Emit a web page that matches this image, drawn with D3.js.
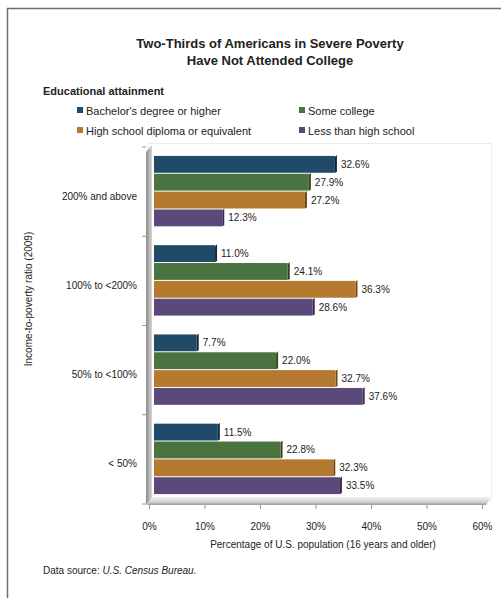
<!DOCTYPE html>
<meta charset="utf-8">
<script src="https://d3js.org/d3.v7.min.js"></script>
<style>
  body { margin: 0; background: #fff; }
  text { font-family: "Liberation Sans", Arial, sans-serif; fill: #222; }
</style>
<body>
  <svg id="vis"></svg>
</body>
<script>
  // data
  var categories = ["200% and above", "100% to <200%", "50% to <100%", "< 50%"];
  var series = ["Bachelor's degree or higher", "Some college", "High school diploma or equivalent", "Less than high school"];
  var bachelor = [32.6, 11.0, 7.7, 11.5];
  var someCollege = [27.9, 24.1, 22.0, 22.8];
  var highSchool = [27.2, 36.3, 32.7, 32.3];
  var lessThanHS = [12.3, 28.6, 37.6, 33.5];
  var xTicks = [0, 10, 20, 30, 40, 50, 60];

  var colors = ["#1f4b68", "#4b733f", "#b5792f", "#5b497b"];
  var sideColors = ["#10293a", "#2b4523", "#6f4716", "#372b4c"];

  var width = 501, height = 598;
  var svg = d3.select("#vis").attr("width", width).attr("height", height);

  var valuesBySeries = [bachelor, someCollege, highSchool, lessThanHS];
  var rows = [];
  categories.forEach(function(c, i) {
    series.forEach(function(s, j) {
      rows.push({cat: c, series: s, si: j, value: valuesBySeries[j][i]});
    });
  });

  // outer frame (cut off on the right and bottom)
  svg.append("rect")
    .attr("x", 7.5).attr("y", 8.5)
    .attr("width", 700).attr("height", 700)
    .attr("fill", "none").attr("stroke", "#6e6e6e").attr("stroke-width", 1.5);

  // titles
  svg.append("text").attr("x", 270).attr("y", 48).attr("text-anchor", "middle")
    .attr("font-size", 13).attr("font-weight", "bold")
    .text("Two-Thirds of Americans in Severe Poverty");
  svg.append("text").attr("x", 270).attr("y", 65).attr("text-anchor", "middle")
    .attr("font-size", 13).attr("font-weight", "bold")
    .text("Have Not Attended College");

  // legend
  svg.append("text").attr("x", 43).attr("y", 95)
    .attr("font-size", 11).attr("font-weight", "bold")
    .text("Educational attainment");

  var legendPos = [[77, 111], [299, 111], [77, 131], [299, 131]];
  var order = [0, 1, 2, 3];
  var legend = svg.selectAll(".legend")
    .data(order)
    .enter().append("g")
    .attr("class", "legend")
    .attr("transform", function(d) { return "translate(" + legendPos[d][0] + "," + legendPos[d][1] + ")"; });
  legend.append("rect")
    .attr("x", 0).attr("y", -4).attr("width", 6).attr("height", 6)
    .attr("fill", function(d) { return colors[d]; });
  legend.append("text")
    .attr("x", 9).attr("y", 3.5)
    .attr("font-size", 11)
    .attr("fill", "#333")
    .text(function(d) { return series[d]; });

  // scales
  var x = d3.scaleLinear().domain([0, 60]).range([150, 483]);
  var y0 = d3.scaleBand().domain(categories).range([147, 504])
    .paddingInner(0.2).paddingOuter(0.1);
  var y1 = d3.scaleBand().domain(series).range([0, y0.bandwidth()]);
  var depth = 4;

  // plot area
  svg.append("rect")
    .attr("x", 148.5).attr("y", 143.5)
    .attr("width", 343).attr("height", 357)
    .attr("fill", "#fff").attr("stroke", "#ececec");

  var defs = svg.append("defs");
  var wallGrad = defs.append("linearGradient").attr("id", "wall")
    .attr("x1", "0").attr("x2", "1").attr("y1", "0").attr("y2", "0");
  wallGrad.append("stop").attr("offset", "0").attr("stop-color", "#8a8a8a");
  wallGrad.append("stop").attr("offset", "1").attr("stop-color", "#d6d6d6");
  var floorGrad = defs.append("linearGradient").attr("id", "floor")
    .attr("x1", "0").attr("x2", "0").attr("y1", "0").attr("y2", "1");
  floorGrad.append("stop").attr("offset", "0").attr("stop-color", "#f0f0f0");
  floorGrad.append("stop").attr("offset", "0.6").attr("stop-color", "#d4d4d4");
  floorGrad.append("stop").attr("offset", "1").attr("stop-color", "#9a9a9a");

  // left wall
  var wx = x(0);
  svg.append("path")
    .attr("d", "M" + (wx - 4) + ",152 L" + (wx + 2) + ",145 L" + (wx + 2) + ",498 L" + (wx - 4) + ",505 Z")
    .attr("fill", "url(#wall)");

  // floor
  svg.append("path")
    .attr("d", "M" + (x(0) + 2) + ",497 L" + (x(60) + 8) + ",497 L" + (x(60) + 3) + ",505 L" + (x(0) - 3) + ",505 Z")
    .attr("fill", "url(#floor)");

  // wall ticks
  svg.selectAll(".wtick")
    .data(categories.concat(["end"]))
    .enter().append("line")
    .attr("x1", wx - 8).attr("x2", wx - 4)
    .attr("y1", function(d) { return d === "end" ? 504 : y0(d) - y0.step() * y0.paddingInner() / 2; })
    .attr("y2", function(d) { return d === "end" ? 504 : y0(d) - y0.step() * y0.paddingInner() / 2; })
    .attr("stroke", "#9a9a9a");

  // x axis along the floor front edge
  var xAxis = d3.axisBottom(x)
    .tickValues(xTicks)
    .tickSize(4)
    .tickPadding(14)
    .tickFormat(function(d) { return d + "%"; });
  var gx = svg.append("g")
    .attr("transform", "translate(-1,505)")
    .call(xAxis);
  gx.select(".domain").remove();
  gx.selectAll(".tick line").attr("stroke", "#9a9a9a");
  gx.selectAll("text").attr("font-size", 10).attr("fill", "#333")
    .attr("font-family", "Liberation Sans, Arial, sans-serif");

  // bars
  var bars = svg.selectAll(".bar")
    .data(rows)
    .enter().append("g")
    .attr("class", "bar");

  bars.append("path")
    .attr("d", function(d) {
      var top = y0(d.cat) + y1(d.series), h = y1.bandwidth() - 1;
      var xe = x(d.value) + depth;
      return "M" + xe + "," + (top + 1) + " L" + (xe + 2) + "," + (top - 1) +
        " L" + (xe + 2) + "," + (top + h - 1) + " L" + xe + "," + (top + h) + " Z";
    })
    .attr("fill", function(d) { return sideColors[d.si]; });

  bars.append("rect")
    .attr("x", x(0) + depth)
    .attr("y", function(d) { return y0(d.cat) + y1(d.series); })
    .attr("width", function(d) { return x(d.value) - x(0); })
    .attr("height", y1.bandwidth() - 1)
    .attr("fill", function(d) { return colors[d.si]; });

  bars.append("text")
    .attr("x", function(d) { return x(d.value) + depth + 6; })
    .attr("y", function(d) { return y0(d.cat) + y1(d.series) + y1.bandwidth() / 2 + 3; })
    .attr("font-size", 10)
    .attr("fill", "#333")
    .text(function(d) { return d.value.toFixed(1) + "%"; });

  // category labels
  svg.selectAll(".cat")
    .data(categories)
    .enter().append("text")
    .attr("class", "cat")
    .attr("x", 137)
    .attr("y", function(d) { return y0(d) + y0.bandwidth() / 2 + 8; })
    .attr("text-anchor", "end")
    .attr("font-size", 10)
    .attr("fill", "#333")
    .text(function(d) { return d; });

  // axis titles
  svg.append("text")
    .attr("text-anchor", "middle")
    .attr("transform", "translate(32," + 299 + ") rotate(-90)")
    .attr("font-size", 10).attr("fill", "#333")
    .text("Income-to-poverty ratio (2009)");

  svg.append("text")
    .attr("x", 323).attr("y", 548)
    .attr("text-anchor", "middle")
    .attr("font-size", 10).attr("fill", "#333")
    .text("Percentage of U.S. population (16 years and older)");

  var src = svg.append("text").attr("x", 43).attr("y", 574)
    .attr("font-size", 10).attr("fill", "#333");
  src.append("tspan").text("Data source: ");
  src.append("tspan").attr("font-style", "italic").text("U.S. Census Bureau.");
</script>
